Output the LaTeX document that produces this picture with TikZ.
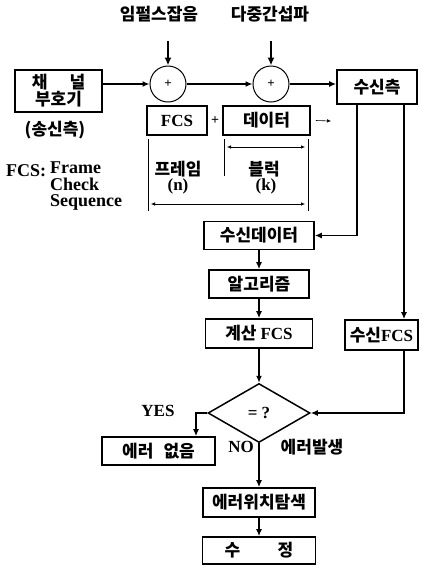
\documentclass[tikz,border=0pt]{standalone}
\usepackage{fontspec}
\setmainfont{Liberation Serif}
\newfontfamily\kr{Noto Sans CJK KR}
\usetikzlibrary{arrows.meta,shapes.geometric}
\begin{document}
\begin{tikzpicture}[x=1pt,y=-1pt,
  krf/.style={font=\kr\bfseries\fontsize{17}{19}\selectfont},
  latf/.style={font=\bfseries\fontsize{17}{17}\selectfont},
  legf/.style={font=\bfseries\fontsize{18}{16.5}\selectfont},
  box/.style={draw, line width=1.7pt, inner sep=0pt, krf, align=center},
  arr/.style={line width=1.4pt, -{Latex[length=7pt,width=6pt]}},
  inarr/.style={line width=2.6pt, -{Latex[length=8pt,width=7pt]}},
  thinarr/.style={line width=0.6pt, -{Latex[length=4pt,width=3.5pt]}},
  dim/.style={line width=0.6pt, {Latex[length=4pt,width=3.5pt]}-{Latex[length=4pt,width=3.5pt]}},
  vline/.style={line width=0.8pt},
  sum/.style={draw, circle, line width=1pt, minimum size=36pt, inner sep=0pt, font=\bfseries\fontsize{13}{13}\selectfont}
]
\useasboundingbox (0,0) rectangle (423,566);

% titles
\node[krf] (t1) at (159,14) {임펄스잡음};
\node[krf] (t2) at (270,14) {다중간섭파};
\coordinate (in1) at (168,41);
\coordinate (in2) at (271,41);

% summing circles
\node[sum] (c1) at (168,84) {+};
\node[sum] (c2) at (271,84) {+};
\draw[inarr] (in1) -- (c1);
\draw[inarr] (in2) -- (c2);

% channel coder
\node[box, minimum width=87pt, minimum height=42pt] (coder) at (58.5,91) {채\hspace{1.3em}널\\[-2pt]부호기};
\node[krf] (send) at (55,130) {(송신측)};
\node[box, minimum width=80pt, minimum height=34pt] (rx) at (377,87) {수신측};

\draw[arr] (coder.east |- c1) -- (c1.west);
\draw[arr] (c1.east) -- (c2.west);
\draw[arr] (c2.east) -- (c2.east -| rx.west);

% frame
\node[box, latf, minimum width=60pt, minimum height=29pt] (fcs) at (177,120.5) {FCS};
\node[font=\bfseries\fontsize{14}{14}\selectfont, inner sep=0pt] (pl) at (215,121) {+};
\node[box, minimum width=87pt, minimum height=29pt] (data) at (266.5,120.5) {데이터};
\coordinate (dend) at (331,121);
\draw[thinarr] ([xshift=5pt]data.east) -- (dend);

\draw[vline] (148,139) -- (148,211);
\draw[vline] (224,139) -- (224,176);
\draw[vline] (308,139) -- (308,211);
\draw[dim] (227,147) -- (305,147);
\draw[dim] (151,204) -- (305,204);
\node[krf] (frm) at (178,169) {프레임};
\node[latf] (nn) at (178,186) {(n)};
\node[krf] (blk) at (264,169) {블럭};
\node[latf] (kk) at (266,186) {(k)};

% legend
\node[legf, anchor=base west, inner sep=0pt] (leg1) at (6,176) {FCS:};
\node[legf, anchor=north west, inner sep=0pt, align=left] (leg2) at (50,162) {Frame\\Check\\Sequence};

% receiver chain
\node[box, minimum width=110pt, minimum height=28pt] (rxdata) at (259,235.5) {수신데이터};
\node[box, minimum width=100pt, minimum height=28pt] (algo) at (259,284) {알고리즘};
\node[box, minimum width=107pt, minimum height=29pt] (calc) at (259,333.5) {계산 {\fontspec{Liberation Serif}FCS}};
\node[box, minimum width=73pt, minimum height=30pt] (rxfcs) at (381.5,335) {수신{\fontspec{Liberation Serif}FCS}};
\node[draw, diamond, line width=1.5pt, aspect=1.73, minimum width=102pt, minimum height=59pt, inner sep=0pt, latf] (dq) at (259,413) {= ?};
\node[box, minimum width=113pt, minimum height=28pt] (noerr) at (158.5,451) {에러\hspace{0.6em}없음};
\node[box, minimum width=112pt, minimum height=29pt] (loc) at (259,502.5) {에러위치탐색};
\node[box, minimum width=113pt, minimum height=27pt] (fix) at (259,550.5) {수\hspace{2.2em}정};

\draw[arr] ([xshift=-20pt]rx.south) |- (rxdata.east);
\draw[arr] ([xshift=27pt]rx.south) -- ([xshift=22.5pt]rxfcs.north);
\draw[arr] (rxdata.south) -- (algo.north);
\draw[arr] (algo.south) -- (calc.north);
\draw[arr] (calc.south) -- (dq.north);
\draw[arr] ([xshift=22.5pt]rxfcs.south) |- (dq.east);
\draw[arr] (dq.west) -| ([xshift=37.5pt]noerr.north);
\draw[arr] (dq.south) -- (loc.north);
\draw[arr] (loc.south) -- (fix.north);

\node[latf] (yes) at (158,411) {YES};
\node[latf] (no) at (241,447) {NO};
\node[krf] (occ) at (312,447) {에러발생};
\end{tikzpicture}
\end{document}
